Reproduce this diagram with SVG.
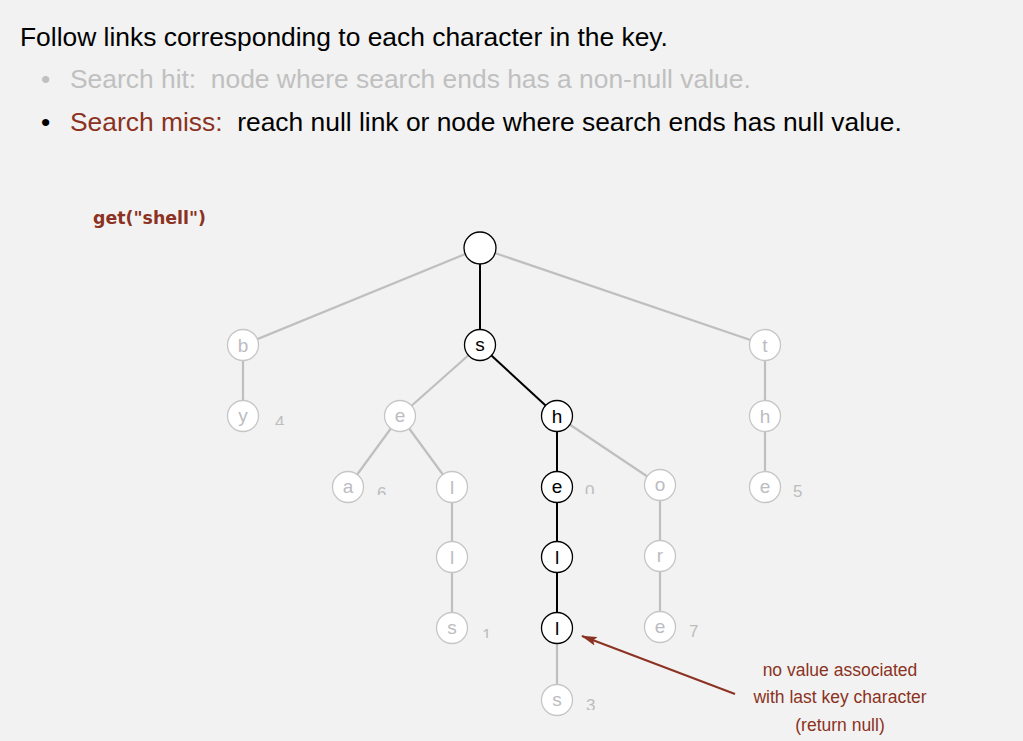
<svg xmlns="http://www.w3.org/2000/svg" width="1023" height="741" viewBox="0 0 1023 741">
<defs>
<style>
.bg{fill:#f2f2f2}
.h{font-family:"Liberation Sans",Arial,sans-serif;font-size:26.4px;fill:#000}
.g{fill:#c0c0c0}
.r{fill:#8b3222}
.call{font-family:"DejaVu Sans",sans-serif;font-weight:bold;font-size:17.4px;fill:#8b3222}
.ann{font-family:"Liberation Sans",Arial,sans-serif;font-size:17.5px;fill:#8b3222;text-anchor:middle}
.gn circle{fill:#fff;stroke:#c6c6c6;stroke-width:1.3}
.bn circle{fill:#fff;stroke:#000;stroke-width:1.3}
.lbl{font-family:"Liberation Sans",Arial,sans-serif;font-size:19px;text-anchor:middle}
.gn text{fill:#bcbcc2}
.bn text{fill:#000}
.val{font-family:"Liberation Sans",Arial,sans-serif;font-size:17px;fill:#bdbdbd}
.ge{stroke:#bfbfbf;stroke-width:2.2;fill:none}
.be{stroke:#000;stroke-width:2;fill:none}
</style>
<marker id="ah" markerWidth="16" markerHeight="10" refX="15" refY="5" orient="auto" markerUnits="userSpaceOnUse">
<path d="M0,0.5 L16,5 L0,9.5 L3,5 Z" fill="#8b3222"/>
</marker>
<clipPath id="c4"><rect x="265" y="405" width="30" height="20"/></clipPath>
<clipPath id="c6"><rect x="367" y="476" width="30" height="19"/></clipPath>
<clipPath id="c0"><rect x="575" y="475" width="30" height="19"/></clipPath>
<clipPath id="c1"><rect x="472" y="617" width="30" height="21"/></clipPath>
<clipPath id="c3"><rect x="576" y="688" width="30" height="22"/></clipPath>
</defs>
<rect class="bg" x="0" y="0" width="1023" height="741"/>
<text class="h" x="20" y="46">Follow links corresponding to each character in the key.</text>
<text class="h g" x="41" y="88">•</text>
<text class="h g" x="70" y="88" xml:space="preserve">Search hit:  node where search ends has a non-null value.</text>
<text class="h" x="41" y="131">•</text>
<text class="h" x="70" y="131" xml:space="preserve"><tspan class="r">Search miss:</tspan>  reach null link or node where search ends has null value.</text>
<text class="call" x="93" y="224">get("shell")</text>

<g id="connectors">
<line class="ge" x1="480" y1="248" x2="243" y2="345"/>
<line class="ge" x1="480" y1="248" x2="765" y2="345"/>
<line class="ge" x1="243" y1="345" x2="243" y2="416"/>
<line class="ge" x1="480" y1="345" x2="400" y2="416"/>
<line class="ge" x1="400" y1="416" x2="348" y2="487"/>
<line class="ge" x1="400" y1="416" x2="452" y2="487"/>
<line class="ge" x1="452" y1="487" x2="452" y2="557"/>
<line class="ge" x1="452" y1="557" x2="452" y2="628"/>
<line class="ge" x1="557" y1="416" x2="660" y2="485"/>
<line class="ge" x1="660" y1="485" x2="660" y2="556"/>
<line class="ge" x1="660" y1="556" x2="660" y2="627"/>
<line class="ge" x1="765" y1="345" x2="765" y2="416"/>
<line class="ge" x1="765" y1="416" x2="765" y2="487"/>
<line class="ge" x1="557" y1="628" x2="557" y2="700"/>
<line class="be" x1="480" y1="248" x2="480" y2="345"/>
<line class="be" x1="480" y1="345" x2="557" y2="416"/>
<line class="be" x1="557" y1="416" x2="557" y2="487"/>
<line class="be" x1="557" y1="487" x2="557" y2="557"/>
<line class="be" x1="557" y1="557" x2="557" y2="628"/>
<line x1="735" y1="694" x2="582" y2="636" stroke="#8b3222" stroke-width="2" marker-end="url(#ah)"/>
</g>

<g id="n-root" class="bn"><circle cx="480" cy="248" r="16"/></g>
<g id="n-b" class="gn"><circle cx="243" cy="345" r="15.5"/><text class="lbl" x="243" y="352">b</text></g>
<g id="n-by" class="gn"><circle cx="243" cy="416" r="15.5"/><text class="lbl" x="243" y="422">y</text></g>
<g id="n-s" class="bn"><circle cx="480" cy="345" r="15.5"/><text class="lbl" x="480" y="351">s</text></g>
<g id="n-se" class="gn"><circle cx="400" cy="416" r="15.5"/><text class="lbl" x="400" y="422">e</text></g>
<g id="n-sea" class="gn"><circle cx="348" cy="487" r="15.5"/><text class="lbl" x="348" y="493">a</text></g>
<g id="n-sel" class="gn"><circle cx="452" cy="487" r="15.5"/><text class="lbl" x="452" y="494">l</text></g>
<g id="n-sell" class="gn"><circle cx="452" cy="557" r="15.5"/><text class="lbl" x="452" y="564">l</text></g>
<g id="n-sells" class="gn"><circle cx="452" cy="628" r="15.5"/><text class="lbl" x="452" y="634">s</text></g>
<g id="n-sh" class="bn"><circle cx="557" cy="416" r="15.5"/><text class="lbl" x="557" y="423">h</text></g>
<g id="n-she" class="bn"><circle cx="557" cy="487" r="15.5"/><text class="lbl" x="557" y="493">e</text></g>
<g id="n-shel" class="bn"><circle cx="557" cy="557" r="15.5"/><text class="lbl" x="557" y="564">l</text></g>
<g id="n-shell" class="bn"><circle cx="557" cy="628" r="15.5"/><text class="lbl" x="557" y="635">l</text></g>
<g id="n-shells" class="gn"><circle cx="557" cy="700" r="15.5"/><text class="lbl" x="557" y="706">s</text></g>
<g id="n-sho" class="gn"><circle cx="660" cy="485" r="15.5"/><text class="lbl" x="660" y="491">o</text></g>
<g id="n-shor" class="gn"><circle cx="660" cy="556" r="15.5"/><text class="lbl" x="660" y="562">r</text></g>
<g id="n-shore" class="gn"><circle cx="660" cy="627" r="15.5"/><text class="lbl" x="660" y="633">e</text></g>
<g id="n-t" class="gn"><circle cx="765" cy="345" r="15.5"/><text class="lbl" x="765" y="352">t</text></g>
<g id="n-th" class="gn"><circle cx="765" cy="416" r="15.5"/><text class="lbl" x="765" y="423">h</text></g>
<g id="n-the" class="gn"><circle cx="765" cy="487" r="15.5"/><text class="lbl" x="765" y="493">e</text></g>

<g id="values">
<text class="val" x="275" y="428" clip-path="url(#c4)">4</text>
<text class="val" x="377" y="499" clip-path="url(#c6)">6</text>
<text class="val" x="585" y="497" clip-path="url(#c0)">0</text>
<text class="val" x="482" y="641" clip-path="url(#c1)">1</text>
<text class="val" x="689" y="637">7</text>
<text class="val" x="793" y="497">5</text>
<text class="val" x="586" y="711" clip-path="url(#c3)">3</text>
</g>

<g id="annotation">
<text class="ann" x="840" y="676">no value associated</text>
<text class="ann" x="840" y="703">with last key character</text>
<text class="ann" x="840" y="731">(return null)</text>
</g>
</svg>
